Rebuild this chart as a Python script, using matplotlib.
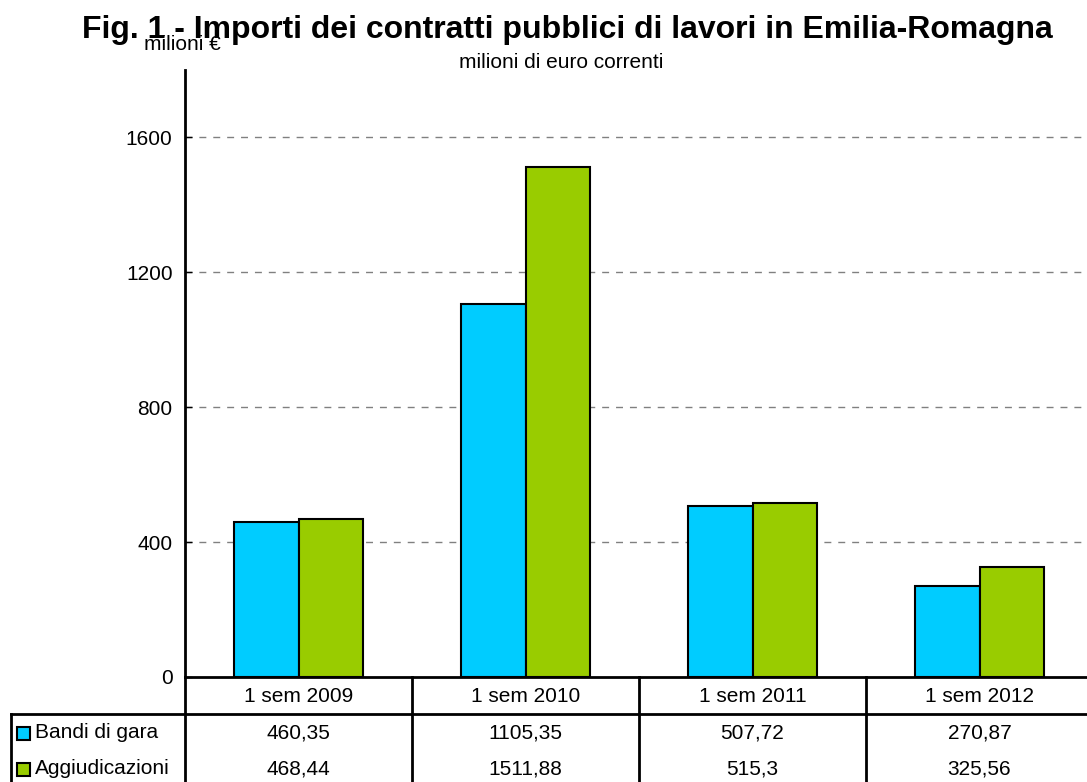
import numpy as np
import matplotlib.pyplot as plt
from matplotlib.lines import Line2D
from matplotlib.patches import Rectangle
import matplotlib.transforms as mtransforms

plt.rcParams['font.family'] = ['Liberation Sans', 'DejaVu Sans']

categories = ['1 sem 2009', '1 sem 2010', '1 sem 2011', '1 sem 2012']
bandi = [460.35, 1105.35, 507.72, 270.87]
aggiudicazioni = [468.44, 1511.88, 515.3, 325.56]
bandi_labels = ['460,35', '1105,35', '507,72', '270,87']
aggiud_labels = ['468,44', '1511,88', '515,3', '325,56']
series_names = ['Bandi di gara', 'Aggiudicazioni']
colors = ['#00CCFF', '#99CC00']

W, H = 1087, 782
fig = plt.figure(figsize=(W / 100, H / 100), dpi=100)

def fx(px):
    return px / W

def fy(py):
    return 1 - py / H

ax_left, ax_right, ax_top, ax_bottom = 185, 1093, 70, 677
ax = fig.add_axes([fx(ax_left), fy(ax_bottom), fx(ax_right - ax_left), fy(ax_top) - fy(ax_bottom)])

x = np.arange(len(categories))
bw = 0.286
ax.bar(x - bw / 2, bandi, bw, color=colors[0], edgecolor='black', linewidth=1.5, zorder=3)
ax.bar(x + bw / 2, aggiudicazioni, bw, color=colors[1], edgecolor='black', linewidth=1.5, zorder=3)

ax.set_xlim(-0.5, len(categories) - 0.5)
ax.set_ylim(0, 1800)
ax.set_yticks([0, 400, 800, 1200, 1600])
ax.tick_params(axis='y', direction='in', length=5, width=1, labelsize=15, pad=9)
ax.set_xticks([])
for yv in [400, 800, 1200, 1600]:
    ax.axhline(yv, color='#808080', linestyle=(0, (5, 5)), linewidth=1, zorder=1)
for s in ['top', 'right']:
    ax.spines[s].set_visible(False)
ax.spines['left'].set_linewidth(2)
ax.spines['bottom'].set_linewidth(2)

# data table below the axes
trans = mtransforms.blended_transform_factory(ax.transData, fig.transFigure)
row_y = [677, 714, 751, 788]
lw = 2
fig.add_artist(Line2D([fx(11), 1], [fy(row_y[1])] * 2, color='black', lw=lw))
fig.add_artist(Line2D([fx(ax_left)] * 2, [fy(row_y[0]), 0], color='black', lw=lw))
fig.add_artist(Line2D([fx(11)] * 2, [fy(row_y[1]), 0], color='black', lw=lw))
for b in x[:-1] + 0.5:
    fig.add_artist(Line2D([b, b], [fy(row_y[0]), 0], color='black', lw=lw, transform=trans))

for i, cat in enumerate(categories):
    fig.text(i, fy(696), cat, transform=trans, ha='center', va='center', fontsize=15)
    fig.text(i, fy(733), bandi_labels[i], transform=trans, ha='center', va='center', fontsize=15)
    fig.text(i, fy(769), aggiud_labels[i], transform=trans, ha='center', va='center', fontsize=15)

for k, name in enumerate(series_names):
    yc = [733, 769][k]
    fig.add_artist(Rectangle((fx(17), fy(yc + 6.5)), fx(13), fy(yc - 6.5) - fy(yc + 6.5),
                             facecolor=colors[k], edgecolor='black', lw=1.5))
    fig.text(fx(35), fy(yc), name, ha='left', va='center', fontsize=15)

fig.text(fx(567), fy(30), 'Fig. 1 - Importi dei contratti pubblici di lavori in Emilia-Romagna',
         ha='center', va='center', fontsize=23, fontweight='bold')
fig.text(fx(182), fy(45), 'milioni €', ha='center', va='center', fontsize=15)
fig.text(fx(561), fy(63), 'milioni di euro correnti', ha='center', va='center', fontsize=15)

fig.savefig('out.png', dpi=100)
